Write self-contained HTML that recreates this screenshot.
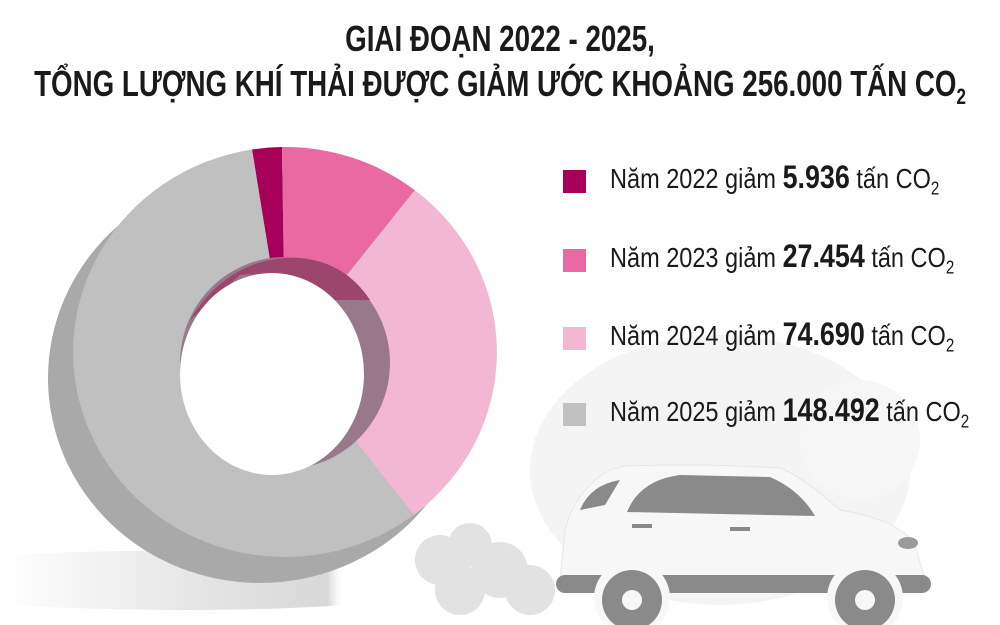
<!DOCTYPE html>
<html><head><meta charset="utf-8"><style>
html,body{margin:0;padding:0;background:#fff;}
#w{position:relative;width:1000px;height:625px;overflow:hidden;background:#fff;font-family:"Liberation Sans",sans-serif;}
.t{position:absolute;left:500px;font-weight:bold;font-size:36px;color:#1a1a1a;white-space:nowrap;transform:translateX(-50%) scaleX(0.77);transform-origin:center;}
.lg{position:absolute;left:610px;font-size:28px;color:#1a1a1a;white-space:nowrap;transform:scaleX(0.84);transform-origin:left;}
.lg b{font-size:32px;}
.lg sub{font-size:18px;}
.sq{position:absolute;left:563px;width:23px;height:23px;}
</style></head><body><div id="w">
<svg width="1000" height="625" style="position:absolute;left:0;top:0">
<defs>
<linearGradient id="sh" x1="0" x2="1"><stop offset="0" stop-color="#fff"/><stop offset="0.6" stop-color="#e4e4e4"/><stop offset="0.95" stop-color="#d8d8d8"/><stop offset="1" stop-color="#fff" stop-opacity="0"/></linearGradient>
</defs>
<ellipse cx="720" cy="470" rx="190" ry="135" fill="#f4f4f4"/>
<ellipse cx="860" cy="440" rx="60" ry="60" fill="#f6f6f6"/>
<path d="M0 555 Q200 545 340 560 L345 605 Q200 615 0 605Z" fill="url(#sh)"/>
<g fill="#e2e2e2"><circle cx="440" cy="560" r="25"/><circle cx="470" cy="545" r="22"/><circle cx="500" cy="570" r="28"/><circle cx="460" cy="590" r="25"/><circle cx="530" cy="590" r="25"/></g>
<ellipse cx="260" cy="378" rx="212" ry="205" fill="#a9a9a9"/>
<path d="M285 352 L252.0 149.5 A212 205 0 0 1 282.0 147.0Z" fill="#a6005a"/>
<path d="M285 352 L282.0 147.0 A212 205 0 0 1 414.9 190.2Z" fill="#e96aa3"/>
<path d="M285 352 L414.9 190.2 A212 205 0 0 1 413.8 514.9Z" fill="#f2b7d2"/>
<path d="M285 352 L413.8 514.9 A212 205 0 1 1 252.0 149.5Z" fill="#c0c0c0"/>
<ellipse cx="285" cy="363" rx="105" ry="106" fill="#9a788b"/>
<path d="M190 320 Q230 255 300 258 Q345 262 370 300 L330 300 Q290 270 240 275Z" fill="#9c466e"/>
<ellipse cx="272" cy="374" rx="92" ry="101" fill="#fff"/>
<path d="M560 580 L565 530 Q575 490 610 470 L625 466 Q700 463 780 468 Q800 475 840 510 Q900 520 915 545 L925 580 Z" fill="#f7f7f7" stroke="#e6e6e6"/>
<path d="M627 512 Q640 480 680 475 L770 477 Q800 490 815 516 Z" fill="#8a8a8a"/>
<path d="M580 510 Q590 485 620 480 L605 505Z" fill="#8a8a8a"/>
<rect x="556" y="575" width="375" height="18" rx="9" fill="#8a8a8a"/>
<circle cx="632" cy="598" r="38" fill="#f7f7f7"/><circle cx="865" cy="598" r="38" fill="#f7f7f7"/>
<circle cx="632" cy="600" r="30" fill="#8a8a8a"/><circle cx="632" cy="600" r="10" fill="#f7f7f7"/>
<circle cx="865" cy="600" r="30" fill="#8a8a8a"/><circle cx="865" cy="600" r="10" fill="#f7f7f7"/>
<rect x="632" y="524" width="20" height="4" fill="#8a8a8a"/><rect x="730" y="527" width="20" height="4" fill="#8a8a8a"/>
<ellipse cx="908" cy="543" rx="10" ry="6" fill="#9a9a9a"/>
</svg>
<div class="t" style="top:18px;">GIAI ĐOẠN 2022 - 2025,</div>
<div class="t" style="top:63px;">TỔNG LƯỢNG KHÍ THẢI ĐƯỢC GIẢM ƯỚC KHOẢNG 256.000 TẤN CO<sub style="font-size:22px">2</sub></div>
<div class="sq" style="top:170px;background:#a6005a"></div>
<div class="sq" style="top:249px;background:#e96aa3"></div>
<div class="sq" style="top:327px;background:#f2b7d2"></div>
<div class="sq" style="top:403px;background:#c0c0c0"></div>
<div class="lg" style="top:159px;">Năm 2022 giảm <b>5.936</b> tấn CO<sub>2</sub></div>
<div class="lg" style="top:238px;">Năm 2023 giảm <b>27.454</b> tấn CO<sub>2</sub></div>
<div class="lg" style="top:316px;">Năm 2024 giảm <b>74.690</b> tấn CO<sub>2</sub></div>
<div class="lg" style="top:392px;">Năm 2025 giảm <b>148.492</b> tấn CO<sub>2</sub></div>
</div></body></html>
